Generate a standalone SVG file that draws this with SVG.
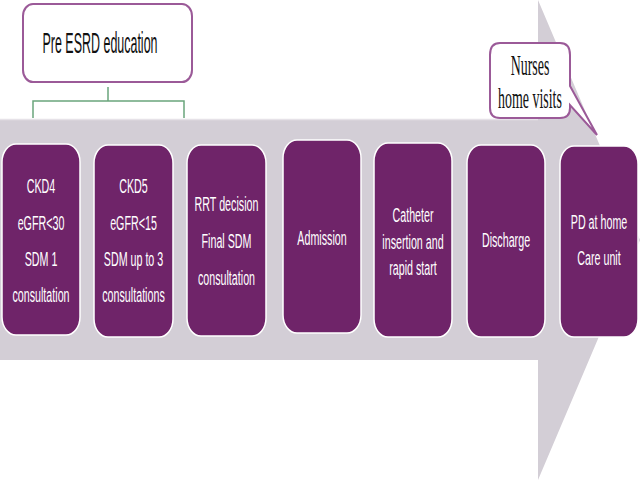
<svg xmlns="http://www.w3.org/2000/svg" width="640" height="480" viewBox="0 0 640 480">
<style>
.box{fill:#6f2469;stroke:#ffffff;stroke-width:1.5}
.bt{font-family:"Liberation Sans",Arial,sans-serif;font-size:21px;fill:#ffffff;text-anchor:middle}
.lbl{fill:#ffffff;stroke:#9b5a98;stroke-width:2}
.conn{fill:none;stroke:#6aa57c;stroke-width:1.5}
.tx{font-size:29px;fill:#111111;text-anchor:middle}
</style>
<rect width="640" height="480" fill="#ffffff"/>
<g id="arrow">
<polygon points="0,120 538,120 538,0 640,240 538,480 538,360 0,360" fill="#d3ced6"/>
<line x1="0" y1="119.5" x2="538" y2="119.5" stroke="#e6e2e8" stroke-width="1.5"/>
</g>
<g id="connectors">
<path class="conn" d="M108,87 V101 M33,118 V101 H184 V118"/>
</g>
<g id="pre-esrd">
<rect class="lbl" x="23" y="4" width="169" height="78" rx="10" ry="12"/>
<text class="tx" transform="translate(100 53) scale(0.43 1)" font-family="'Liberation Sans',Arial,sans-serif">Pre ESRD education</text>
</g>
<g id="nurses">
<path class="lbl" d="M500,43 H560 Q570,43 570,55 V86 L597,135 L570,105 V108 Q570,118 560,118 H500 Q490,118 490,108 V55 Q490,43 500,43 Z"/>
<text class="tx" transform="translate(530 75) scale(0.48 1)" font-family="'Liberation Serif','Times New Roman',serif">Nurses</text>
<text class="tx" transform="translate(530 108) scale(0.48 1)" font-family="'Liberation Serif','Times New Roman',serif">home visits</text>
</g>
<g id="ckd4">
<rect class="box" x="2" y="144" width="78" height="191" rx="14" ry="18"/>
<g transform="translate(41 0) scale(0.51 1)">
<text class="bt" x="0" y="193">CKD4</text>
<text class="bt" x="0" y="230">eGFR&lt;30</text>
<text class="bt" x="0" y="266">SDM 1</text>
<text class="bt" x="0" y="302">consultation</text>
</g>
</g>
<g id="ckd5">
<rect class="box" x="94" y="145" width="79" height="192" rx="14" ry="18"/>
<g transform="translate(133.5 0) scale(0.51 1)">
<text class="bt" x="0" y="193">CKD5</text>
<text class="bt" x="0" y="230">eGFR&lt;15</text>
<text class="bt" x="0" y="266">SDM up to 3</text>
<text class="bt" x="0" y="302">consultations</text>
</g>
</g>
<g id="rrt">
<rect class="box" x="187" y="145" width="79" height="191" rx="14" ry="18"/>
<g transform="translate(226.5 0) scale(0.51 1)">
<text class="bt" x="0" y="211">RRT decision</text>
<text class="bt" x="0" y="248">Final SDM</text>
<text class="bt" x="0" y="285">consultation</text>
</g>
</g>
<g id="admission">
<rect class="box" x="283" y="140" width="78" height="193" rx="14" ry="18"/>
<g transform="translate(322 0) scale(0.51 1)">
<text class="bt" x="0" y="245">Admission</text>
</g>
</g>
<g id="catheter">
<rect class="box" x="374" y="143" width="78" height="194" rx="14" ry="18"/>
<g transform="translate(413 0) scale(0.51 1)">
<text class="bt" x="0" y="222">Catheter</text>
<text class="bt" x="0" y="249">insertion and</text>
<text class="bt" x="0" y="275">rapid start</text>
</g>
</g>
<g id="discharge">
<rect class="box" x="467" y="145" width="78" height="192" rx="14" ry="18"/>
<g transform="translate(506 0) scale(0.51 1)">
<text class="bt" x="0" y="247">Discharge</text>
</g>
</g>
<g id="pd-home">
<rect class="box" x="560" y="146" width="78" height="191" rx="14" ry="18"/>
<g transform="translate(599 0) scale(0.51 1)">
<text class="bt" x="0" y="229">PD at home</text>
<text class="bt" x="0" y="265">Care unit</text>
</g>
</g>
</svg>
